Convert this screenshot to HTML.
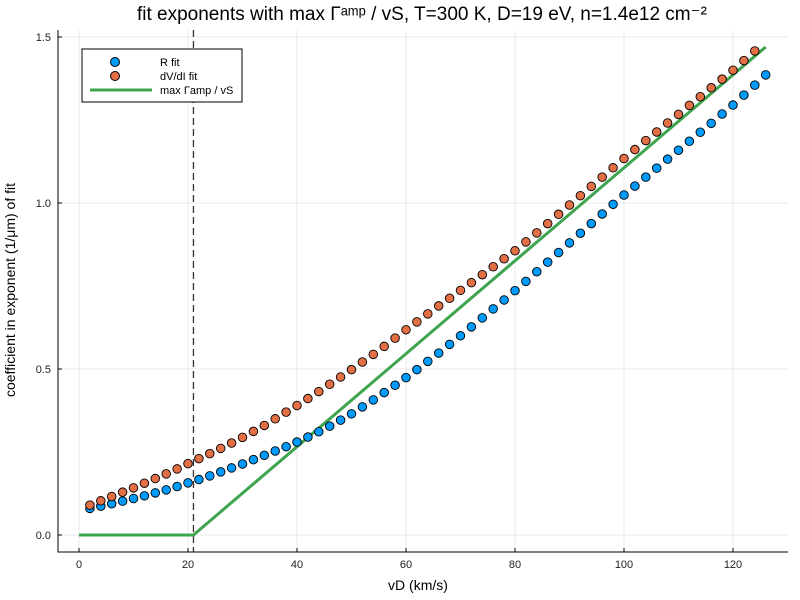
<!DOCTYPE html>
<html><head><meta charset="utf-8"><style>
body{margin:0;background:#fff}
svg{display:block;font-family:"Liberation Sans","DejaVu Sans",sans-serif}
</style></head><body>
<svg id="chart" width="800" height="600">
<text x="422" y="20" font-size="19" text-anchor="middle">fit exponents with max Γᵃᵐᵖ / vS, T=300 K, D=19 eV, n=1.4e12 cm⁻²</text>
<text x="418" y="590" font-size="14" text-anchor="middle">vD (km/s)</text>
<text transform="translate(15,290) rotate(-90)" font-size="14" text-anchor="middle">coefficient in exponent (1/μm) of fit</text>
<g id="grid"></g><g id="axes"></g><g id="marks"></g>
<g>
<rect x="82" y="49" width="160" height="53" fill="#fff" stroke="#000" stroke-width="1"/>
<circle cx="115" cy="62" r="4.5" fill="#009AFA" stroke="#000"/>
<text x="160" y="66" font-size="11">R fit</text>
<circle cx="115" cy="76" r="4.5" fill="#E26F46" stroke="#000"/>
<text x="160" y="80" font-size="11">dV/dI fit</text>
<line x1="90" y1="90" x2="152" y2="90" stroke="#3EA44E" stroke-width="3"/>
<text x="160" y="94" font-size="11">max Γamp / vS</text>
</g>
</svg>
<script>
const rX=[2,4,6,8,10,12,14,16,18,20,22,24,26,28,30,32,34,36,38,40,42,44,46,48,50,52,54,56,58,60,62,64,66,68,70,72,74,76,78,80,82,84,86,88,90,92,94,96,98,100,102,104,106,108,110,112,114,116,118,120,122,124,126];
const rFit=[.080,.087,.094,.102,.110,.118,.127,.136,.146,.157,.167,.178,.190,.202,.214,.227,.240,.253,.266,.280,.295,.311,.328,.346,.365,.386,.407,.429,.451,.474,.498,.523,.548,.574,.600,.627,.654,.681,.708,.736,.764,.793,.822,.851,.880,.909,.938,.967,.996,1.024,1.051,1.078,1.105,1.132,1.159,1.186,1.213,1.240,1.268,1.295,1.325,1.355,1.386];
const dX=[2,4,6,8,10,12,14,16,18,20,22,24,26,28,30,32,34,36,38,40,42,44,46,48,50,52,54,56,58,60,62,64,66,68,70,72,74,76,78,80,82,84,86,88,90,92,94,96,98,100,102,104,106,108,110,112,114,116,118,120,122,124];
const dvdiFit=[.090,.103,.116,.129,.142,.156,.170,.184,.199,.215,.230,.245,.261,.277,.294,.312,.330,.350,.370,.390,.411,.432,.454,.476,.498,.521,.544,.568,.593,.618,.642,.666,.690,.713,.737,.760,.784,.808,.832,.856,.883,.910,.938,.966,.994,1.022,1.050,1.078,1.106,1.134,1.161,1.188,1.214,1.241,1.267,1.294,1.320,1.347,1.373,1.400,1.429,1.458];
const lineX=[0,21,126];
const lineY=[0,0,1.47];
const threshold=21;
const xTicks=[0,20,40,60,80,100,120];
const yTicks=[0,0.5,1.0,1.5];
const yTickLabels=["0.0","0.5","1.0","1.5"];
const NS="http://www.w3.org/2000/svg";
const L=58,R=788,T=30,B=552;
const sx=v=>79+v*5.45;
const sy=v=>535-v*332;
function mk(tag,attrs,parent){const e=document.createElementNS(NS,tag);for(const k in attrs)e.setAttribute(k,attrs[k]);parent.appendChild(e);return e;}
const grid=document.getElementById('grid'),axes=document.getElementById('axes'),marks=document.getElementById('marks');
xTicks.forEach(t=>{
 const g=mk('line',{x1:sx(t),x2:sx(t),y1:T,y2:B,stroke:'#000','stroke-opacity':0.08},grid);
 
 
 const tk=mk('line',{x1:sx(t),x2:sx(t),y1:B,y2:B-4,stroke:'#000'},axes);
 
 
 const tx=mk('text',{x:sx(t),y:B+16,'font-size':11,'text-anchor':'middle',fill:'#222'},axes);
 tx.textContent=t;
 
 
});
yTicks.forEach((t,i)=>{
 const g=mk('line',{x1:L,x2:R,y1:sy(t),y2:sy(t),stroke:'#000','stroke-opacity':0.08},grid);
 
 
 const tk=mk('line',{x1:L,x2:L+4,y1:sy(t),y2:sy(t),stroke:'#000'},axes);
 
 
 const tx=mk('text',{x:L-7,y:sy(t)+4,'font-size':11,'text-anchor':'end',fill:'#222'},axes);
 tx.textContent=yTickLabels[i];
 
 
});
const ax=mk('path',{d:`M${L},${T} V${B} H${R}`,fill:'none',stroke:'#000','stroke-width':1},axes);


const vl=mk('line',{x1:sx(threshold),x2:sx(threshold),y1:T,y2:B,stroke:'#333','stroke-width':1.3,'stroke-dasharray':'7,4'},marks);


const gl=mk('polyline',{points:lineX.map((x,i)=>sx(x)+','+sy(lineY[i])).join(' '),fill:'none',stroke:'#3EA44E','stroke-width':3},marks);


rX.forEach((x,i)=>{
 const c=mk('circle',{cx:sx(x),cy:sy(rFit[i]),r:4.3,fill:'#009AFA',stroke:'#000','stroke-width':0.9},marks);
 
 
});
dX.forEach((x,i)=>{
 const c=mk('circle',{cx:sx(x),cy:sy(dvdiFit[i]),r:4.3,fill:'#E26F46',stroke:'#000','stroke-width':0.9},marks);
 
 
});
</script>
</body></html>
